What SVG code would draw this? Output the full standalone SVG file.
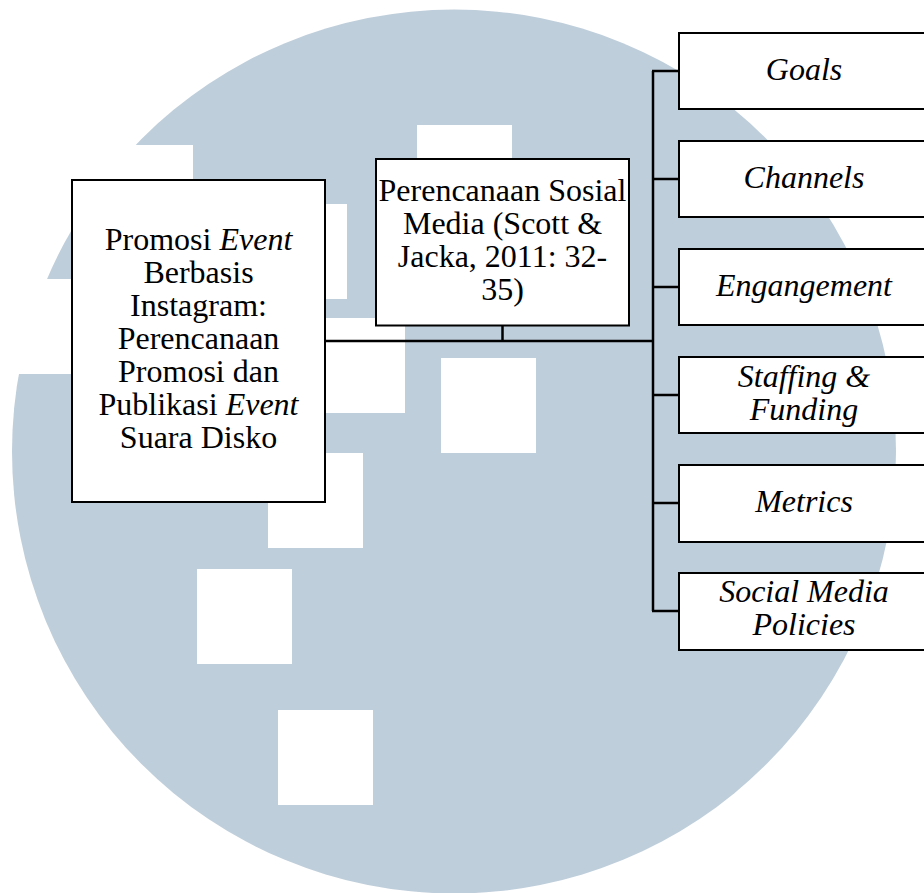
<svg xmlns="http://www.w3.org/2000/svg" width="924" height="893" viewBox="0 0 924 893">
  <style>
    .box { fill: #ffffff; stroke: #000000; stroke-width: 2; }
    .wire { fill: none; stroke: #000000; stroke-width: 2.5; }
    .t { font-family: "Liberation Serif", "Times New Roman", "DejaVu Serif", serif; font-size: 32px; fill: #000000; text-anchor: middle; }
    .it { font-style: italic; }
    .wm { fill: #BFCEDB; }
    .hole { fill: #ffffff; }
  </style>

  <!-- background emblem: pale disc with white blocks -->
  <g id="emblem">
    <rect x="0" y="0" width="924" height="893" fill="#ffffff"/>
    <circle class="wm" cx="454" cy="451.5" r="442"/>
    <rect class="hole" x="98" y="145" width="95" height="95"/>
    <rect class="hole" x="0" y="279" width="100" height="95"/>
    <rect class="hole" x="417" y="125" width="95" height="95"/>
    <rect class="hole" x="252" y="204" width="95" height="95"/>
    <rect class="hole" x="310" y="318" width="95" height="95"/>
    <rect class="hole" x="441" y="358" width="95" height="95"/>
    <rect class="hole" x="268" y="453" width="95" height="95"/>
    <rect class="hole" x="197" y="569" width="95" height="95"/>
    <rect class="hole" x="278" y="710" width="95" height="95"/>
  </g>

  <!-- connectors -->
  <g id="connectors">
    <path class="wire" d="M325,341 H653"/>
    <path class="wire" d="M502.5,325.5 V341"/>
    <path class="wire" d="M653,71 V611"/>
    <path class="wire" d="M652,71 H679 M652,179 H679 M652,287 H679 M652,395 H679 M652,503 H679 M652,611 H679"/>
  </g>

  <g id="topic">
    <rect class="box" x="72" y="180" width="253" height="322"/>
    <text class="t" x="198.5" y="250">Promosi <tspan class="it">Event</tspan></text>
    <text class="t" x="198.5" y="283">Berbasis</text>
    <text class="t" x="198.5" y="316">Instagram:</text>
    <text class="t" x="198.5" y="349">Perencanaan</text>
    <text class="t" x="198.5" y="382">Promosi dan</text>
    <text class="t" x="198.5" y="415">Publikasi <tspan class="it">Event</tspan></text>
    <text class="t" x="198.5" y="448">Suara Disko</text>
  </g>

  <g id="framework">
    <rect class="box" x="376" y="159" width="253" height="166.5"/>
    <text class="t" x="502.5" y="201">Perencanaan Sosial</text>
    <text class="t" x="502.5" y="234">Media (Scott &amp;</text>
    <text class="t" x="502.5" y="267">Jacka, 2011: 32-</text>
    <text class="t" x="502.5" y="300">35)</text>
  </g>

  <g id="goals">
    <rect class="box" x="679" y="33" width="252" height="76"/>
    <text class="t it" x="804" y="80">Goals</text>
  </g>
  <g id="channels">
    <rect class="box" x="679" y="141" width="252" height="76"/>
    <text class="t it" x="804" y="188">Channels</text>
  </g>
  <g id="engagement">
    <rect class="box" x="679" y="249" width="252" height="76"/>
    <text class="t it" x="804" y="296">Engangement</text>
  </g>
  <g id="staffing">
    <rect class="box" x="679" y="357" width="252" height="76"/>
    <text class="t it" x="804" y="387">Staffing &amp;</text>
    <text class="t it" x="804" y="420">Funding</text>
  </g>
  <g id="metrics">
    <rect class="box" x="679" y="465" width="252" height="77"/>
    <text class="t it" x="804" y="512">Metrics</text>
  </g>
  <g id="policies">
    <rect class="box" x="679" y="573" width="252" height="77"/>
    <text class="t it" x="804" y="602">Social Media</text>
    <text class="t it" x="804" y="635">Policies</text>
  </g>
</svg>
